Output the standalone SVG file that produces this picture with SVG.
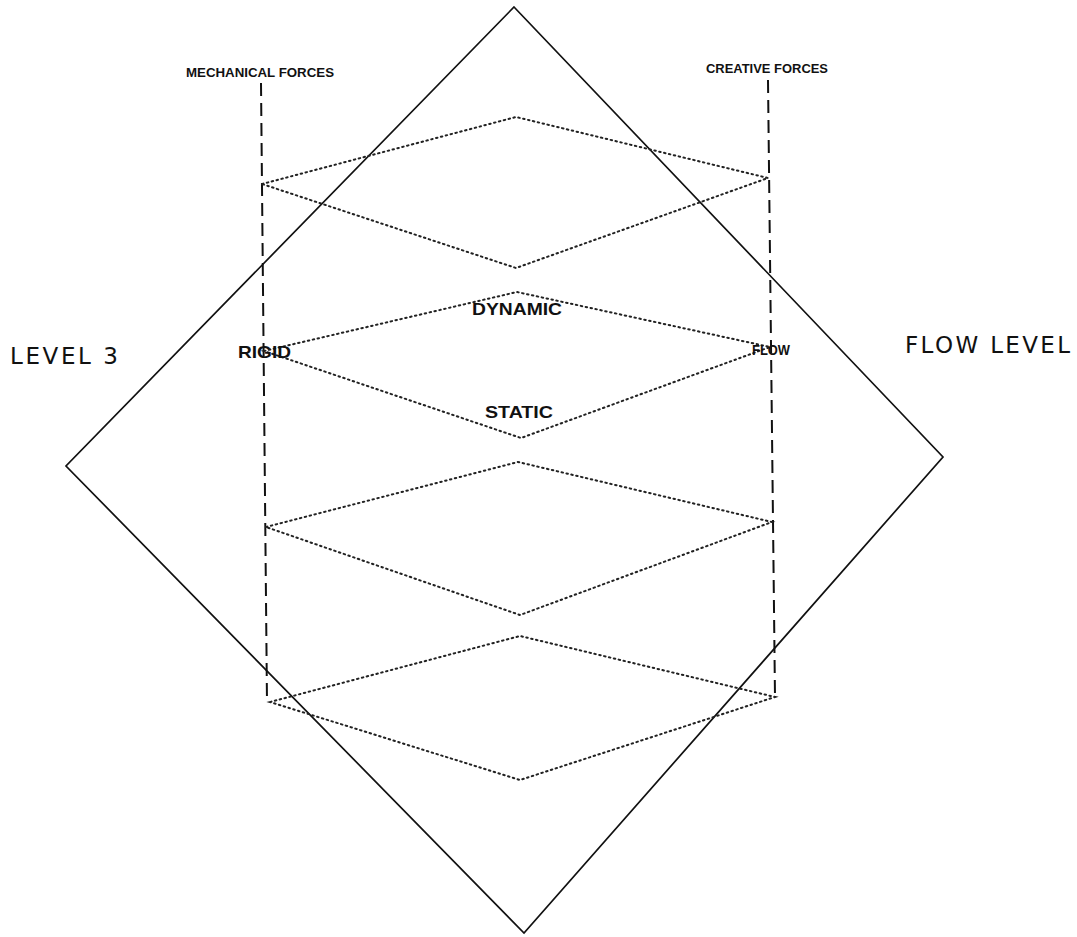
<svg xmlns="http://www.w3.org/2000/svg" width="1077" height="937" viewBox="0 0 1077 937">
<style>
.big{fill:none;stroke:#111;stroke-width:1.7}
.dash{fill:none;stroke:#111;stroke-width:2;stroke-dasharray:13,7}
.dot{fill:none;stroke:#222;stroke-width:2;stroke-dasharray:1.5,3.5;stroke-linecap:round}
.lbl{font-family:"Liberation Sans",Arial,sans-serif;font-weight:bold;fill:#111}
.lvl{font-family:"DejaVu Sans","Liberation Sans",sans-serif;fill:#111;font-size:23px}
</style>
<rect width="1077" height="937" fill="#fff"/>
<g id="outer-diamond"><polygon class="big" points="514,7 943,457 524,933 66,466"/></g>
<g id="connectors">
<line class="dash" x1="261" y1="83" x2="267" y2="703"/>
<line class="dash" x1="768" y1="80" x2="775" y2="697"/>
</g>
<g id="level1"><polygon class="dot" points="262,184 516,117 768,178 516,268"/></g>
<g id="level2"><polygon class="dot" points="264,351 517,292 770,347 521,438"/></g>
<g id="level3"><polygon class="dot" points="266,527 518,462 772,522 520,615"/></g>
<g id="level4"><polygon class="dot" points="270,702 520,636 775,697 520,780"/></g>
<g id="labels">
<text class="lbl" x="186" y="77" font-size="13" textLength="148" lengthAdjust="spacingAndGlyphs">MECHANICAL FORCES</text>
<text class="lbl" x="706" y="73" font-size="13" textLength="122" lengthAdjust="spacingAndGlyphs">CREATIVE FORCES</text>
<text class="lbl" x="238" y="358" font-size="17" textLength="53" lengthAdjust="spacingAndGlyphs">RIGID</text>
<text class="lbl" x="752" y="355" font-size="14" textLength="38" lengthAdjust="spacingAndGlyphs">FLOW</text>
<text class="lbl" x="472" y="315" font-size="17" textLength="90" lengthAdjust="spacingAndGlyphs">DYNAMIC</text>
<text class="lbl" x="485" y="418" font-size="17" textLength="68" lengthAdjust="spacingAndGlyphs">STATIC</text>
<text class="lvl" x="10" y="364" textLength="108" lengthAdjust="spacing">LEVEL 3</text>
<text class="lvl" x="905" y="353" textLength="165" lengthAdjust="spacing">FLOW LEVEL</text>
</g>
</svg>
